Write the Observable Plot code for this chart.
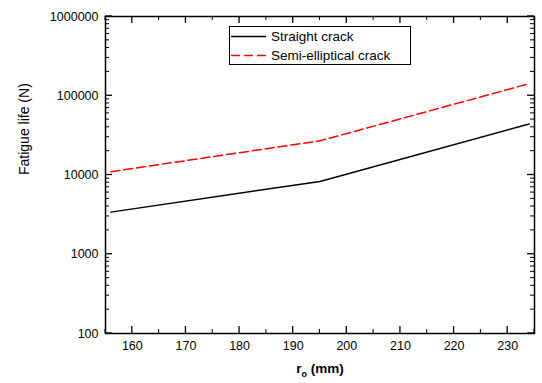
<!DOCTYPE html>
<html>
<head>
<meta charset="utf-8">
<script src="https://cdn.jsdelivr.net/npm/d3@7"></script>
<script src="https://cdn.jsdelivr.net/npm/@observablehq/plot@0.6"></script>
<style>
  body { margin: 0; background: white; font-family: "Liberation Sans", Arial, sans-serif; }
  #wrap { position: relative; width: 542px; height: 383px; }
  #xlabel { position: absolute; left: 0; width: 640px; top: 361px; text-align: center; font-weight: bold; font-size: 13.5px; }
  #xlabel sub { font-size: 9px; vertical-align: -4px; }
  #legend { position: absolute; left: 229px; top: 26px; }
</style>
</head>
<body>
<div id="wrap"></div>
<script>
// ---- data ----
const rValues = [156, 195, 234];                 // r_o (mm)
const straightCrack = [3400, 8300, 44000];       // fatigue life (N)
const semiEllipticalCrack = [11000, 27000, 142000];
const seriesNames = ["Straight crack", "Semi-elliptical crack"];
const xTicks = [160, 170, 180, 190, 200, 210, 220, 230];
const xMinorTicks = [155, 165, 175, 185, 195, 205, 215, 225, 235];
const yTicks = [100, 1000, 10000, 100000, 1000000];
const yTickLabels = ["100", "1000", "10000", "100000", "1000000"];
const xDomain = [155, 235];
const yDomain = [100, 1000000];

const yMinorTicks = [];
for (let i = 0; i < yTicks.length - 1; i++) for (let k = 2; k <= 9; k++) yMinorTicks.push(yTicks[i] * k);

const straightData = rValues.map((x, i) => ({x, y: straightCrack[i]}));
const semiData = rValues.map((x, i) => ({x, y: semiEllipticalCrack[i]}));

const W = 542, H = 383, mL = 105, mR = 8, mT = 16, mB = 50;
const fw = W - mL - mR, fh = H - mT - mB;
const MAJ = 7, MIN = 4;

const plot = Plot.plot({
  width: W,
  height: H,
  marginLeft: mL,
  marginRight: mR,
  marginTop: mT,
  marginBottom: mB,
  style: {fontFamily: '"Liberation Sans", Arial, sans-serif', fontSize: "12.5px", background: "white", color: "black"},
  x: {domain: xDomain},
  y: {type: "log", domain: yDomain},
  marks: [
    Plot.line(straightData, {x: "x", y: "y", stroke: "black", strokeWidth: 1.5}),
    Plot.line(semiData, {x: "x", y: "y", stroke: "#ff0000", strokeWidth: 1.5, strokeDasharray: "9,4"}),
    Plot.axisY(yTicks, {anchor: "left", tickSize: 0, tickPadding: 7, tickFormat: d => yTickLabels[yTicks.indexOf(d)], label: null}),
    Plot.axisX(xTicks, {anchor: "bottom", tickSize: 0, tickPadding: 8, tickFormat: d => String(d), label: null}),
    Plot.frame({stroke: "black", strokeWidth: 1.5}),
    Plot.text(["Fatigue life (N)"], {frameAnchor: "left", rotate: -90, dx: -81, fontSize: 14})
  ]
});
const wrap = document.getElementById("wrap");
wrap.appendChild(plot);

// inward ticks, positioned with the chart's own scales
const sx = plot.scale("x"), sy = plot.scale("y");
const ns = "http://www.w3.org/2000/svg";
const tg = document.createElementNS(ns, "g");
tg.setAttribute("stroke", "black");
function seg(x1, y1, x2, y2, w) {
  const l = document.createElementNS(ns, "line");
  l.setAttribute("x1", x1); l.setAttribute("y1", y1);
  l.setAttribute("x2", x2); l.setAttribute("y2", y2);
  l.setAttribute("stroke-width", w);
  tg.appendChild(l);
}
const xl0 = sx.apply(xDomain[0]), xr0 = sx.apply(xDomain[1]);
const yb0 = sy.apply(yDomain[0]), yt0 = sy.apply(yDomain[1]);
yTicks.forEach(v => { const y = sy.apply(v); seg(xl0, y, xl0 + MAJ, y, 1.3); seg(xr0, y, xr0 - MAJ, y, 1.3); });
yMinorTicks.forEach(v => { const y = sy.apply(v); seg(xl0, y, xl0 + MIN, y, 1); seg(xr0, y, xr0 - MIN, y, 1); });
xTicks.forEach(v => { const x = sx.apply(v); seg(x, yb0, x, yb0 - MAJ, 1.3); seg(x, yt0, x, yt0 + MAJ, 1.3); });
xMinorTicks.forEach(v => { const x = sx.apply(v); seg(x, yb0, x, yb0 - MIN, 1); seg(x, yt0, x, yt0 + MIN, 1); });
plot.appendChild(tg);

const xl = document.createElement("div");
xl.id = "xlabel";
xl.innerHTML = "r<sub>o</sub> (mm)";
wrap.appendChild(xl);

// legend
const lg = document.createElementNS(ns, "svg");
lg.setAttribute("id", "legend");
lg.setAttribute("width", 183);
lg.setAttribute("height", 40);
const rect = document.createElementNS(ns, "rect");
rect.setAttribute("x", 0.5); rect.setAttribute("y", 0.5);
rect.setAttribute("width", 181); rect.setAttribute("height", 38);
rect.setAttribute("fill", "white"); rect.setAttribute("stroke", "black");
lg.appendChild(rect);
const styles = [{stroke: "black", dash: null}, {stroke: "#ff0000", dash: "9,4"}];
seriesNames.forEach((name, i) => {
  const yy = 10.5 + i * 19;
  const ln = document.createElementNS(ns, "line");
  ln.setAttribute("x1", 2); ln.setAttribute("x2", 37);
  ln.setAttribute("y1", yy); ln.setAttribute("y2", yy);
  ln.setAttribute("stroke", styles[i].stroke); ln.setAttribute("stroke-width", 1.5);
  if (styles[i].dash) ln.setAttribute("stroke-dasharray", styles[i].dash);
  lg.appendChild(ln);
  const t = document.createElementNS(ns, "text");
  t.setAttribute("x", 42); t.setAttribute("y", yy + 4.5);
  t.setAttribute("font-size", 13.5);
  t.setAttribute("font-family", '"Liberation Sans", Arial, sans-serif');
  t.textContent = name;
  lg.appendChild(t);
});
wrap.appendChild(lg);
</script>
</body>
</html>
